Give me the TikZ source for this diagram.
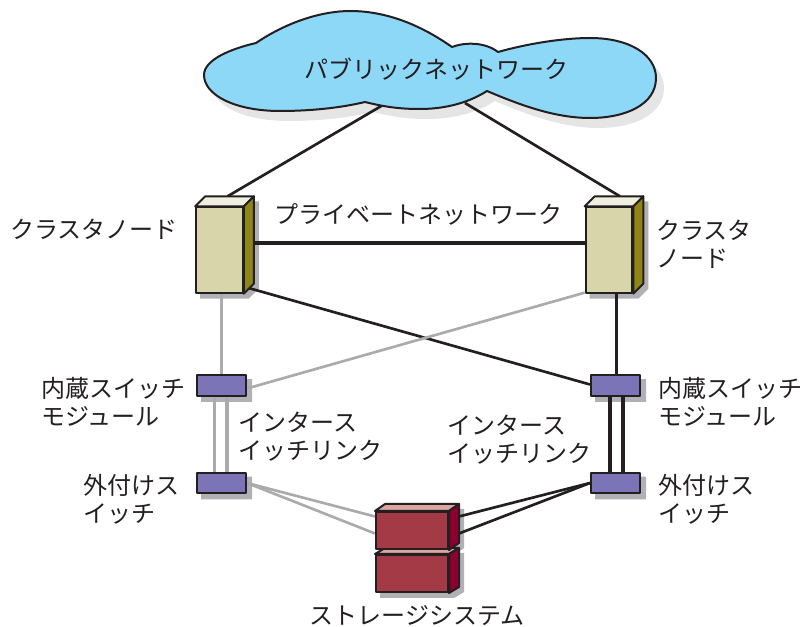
\documentclass[tikz,border=0pt]{standalone}
\usepackage{fontspec}
\setmainfont{Noto Sans CJK JP}
\usetikzlibrary{calc,backgrounds}
\definecolor{cloudblue}{HTML}{8DD7F7}
\definecolor{towerfront}{HTML}{D9D5AB}
\definecolor{towertop}{HTML}{F0EFDF}
\definecolor{towerside}{HTML}{8E8418}
\definecolor{switchblue}{HTML}{7B74B6}
\definecolor{diskfront}{HTML}{A33A45}
\definecolor{disktop}{HTML}{DBA5A0}
\definecolor{diskside}{HTML}{8B002E}
\definecolor{edgeink}{HTML}{231F20}
\definecolor{boxshadow}{HTML}{B1B1B5}
\definecolor{wiregray}{HTML}{ABABAB}
\tikzset{
boxedge/.style={draw=edgeink,line width=1.5pt,line join=round},
tower/.style={boxedge,fill=towerfront,inner sep=0pt,minimum width=35pt,minimum height=64pt},
switchbox/.style={boxedge,fill=switchblue,inner sep=0pt,minimum width=36.75pt,minimum height=15.5pt},
disk/.style={boxedge,fill=diskfront,inner sep=0pt,minimum width=54pt,minimum height=27.75pt},
blackwire/.style={draw=edgeink,line width=2pt},
graywire/.style={draw=wiregray,line width=2pt},
straightblack/.style={draw=edgeink,line width=2.3pt},
straightgray/.style={draw=wiregray,line width=2.3pt},
label/.style={font=\fontsize{18pt}{21pt}\selectfont,text=edgeink,inner sep=0pt,align=left}
}
% faces and shadow of the 3d boxes
\newcommand{\sidefaces}[5]{
\draw[boxedge,fill=#4] (#1.north west) -- ++(#2,-#3) -- ($(#1.north east)+(#2,-#3)$) -- (#1.north east) -- cycle;
\draw[boxedge,fill=#5] (#1.north east) -- ++(#2,-#3) -- ($(#1.south east)+(#2,-#3)$) -- (#1.south east) -- cycle;
}
\newcommand{\boxshadow}[3]{
\fill[boxshadow] ($(#1.north west)+(5,5)$) -- ++(#2,-#3) -- ($(#1.north east)+(5+#2,5-#3)$) -- ($(#1.south east)+(5+#2,5-#3)$) -- ($(#1.south east)+(5,5)$) -- ($(#1.south west)+(5,5)$) -- cycle;
}
\begin{document}
\begin{tikzpicture}[x=.75pt,y=-.75pt]
\useasboundingbox (0,0) rectangle (801,627);
% cloud
\def\cloudpath{(256,43) .. controls (290,20) and (325,11) .. (350,11) .. controls (390,11) and (425,28) .. (452,47)
.. controls (465,42) and (485,42) .. (498,52)
.. controls (530,43) and (565,38) .. (590,38) .. controls (630,38) and (656,55) .. (656,78)
.. controls (656,105) and (625,118) .. (590,118) .. controls (555,118) and (520,105) .. (487,91)
.. controls (465,105) and (440,109) .. (420,109) .. controls (400,109) and (385,107) .. (365,102)
.. controls (340,108) and (310,111) .. (280,111) .. controls (235,111) and (204,95) .. (204,75)
.. controls (204,60) and (230,49) .. (256,43) -- cycle}
\draw[boxedge,fill=cloudblue] \cloudpath;
\node[label] (cloudtext) at (436,69) {パブリックネットワーク};
\coordinate (cloudL) at (383,105);
\coordinate (cloudR) at (465,103);
% boxes
\node[tower] (clusterL) at (219.5,250) {};
\node[tower] (clusterR) at (609,250) {};
\node[switchbox] (switchL) at (221.5,385.5) {};
\node[switchbox] (switchR) at (615.5,385.5) {};
\node[switchbox] (extL) at (221.5,483) {};
\node[switchbox] (extR) at (615.5,483) {};
\node[disk] (diskB) at (412,573.5) {};
\sidefaces{diskB}{10}{6}{disktop}{diskside}
\node[disk] (diskA) at (412,530.5) {};
\sidefaces{diskA}{10}{7}{disktop}{diskside}
\sidefaces{clusterL}{10}{10}{towertop}{towerside}
\sidefaces{clusterR}{10}{10}{towertop}{towerside}
% shadows and wires go behind
\begin{scope}[on background layer]
\fill[black!10,shift={(8,10)}] \cloudpath;
\boxshadow{clusterL}{10}{10}
\boxshadow{clusterR}{10}{10}
\boxshadow{diskA}{10}{7}
\boxshadow{diskB}{10}{6}
\foreach \n in {switchL,switchR,extL,extR}
{\boxshadow{\n}{0}{0}}
\draw[blackwire] (cloudL) -- ($(clusterL.north)+(8,-10)$);
\draw[blackwire] (cloudR) -- ($(clusterR.north)+(11,-10)$);
\draw[straightblack] ($(clusterL.east)+(0,-7)$) -- ($(clusterR.west)+(0,-7)$);
\draw[blackwire] ($(clusterL.south east)+(0,-7)$) -- ($(switchR.west)+(0,-1)$);
\draw[graywire] ($(clusterR.south west)+(0,-1)$) -- ($(switchL.east)+(0,3)$);
\draw[straightgray] (switchL.north) -- (switchL.north |- clusterL.south);
\draw[straightblack] ($(switchR.north)+(1,0)$) -- ($(switchR.north |- clusterR.south)+(1,0)$);
\draw[straightgray] ($(switchL.south)+(-7,0)$) -- ($(extL.north)+(-7,0)$);
\draw[straightgray] ($(switchL.south)+(5.5,0)$) -- ($(extL.north)+(5.5,0)$);
\draw[straightblack] ($(switchR.south)+(-5.5,0)$) -- ($(extR.north)+(-5.5,0)$);
\draw[straightblack] ($(switchR.south)+(7.5,0)$) -- ($(extR.north)+(7.5,0)$);
\draw[graywire] (extL.east) -- ($(diskA.west)+(0,-14)$);
\draw[graywire] (extL.east) -- ($(diskA.west)+(0,3)$);
\draw[blackwire] (extR.west) -- ($(diskA.east)+(10,-14)$);
\draw[blackwire] (extR.west) -- ($(diskA.east)+(10,3)$);
\end{scope}
% labels
\node[label,anchor=west] (clusterLtext) at (10,229) {クラスタノード};
\node[label,anchor=west] (clusterRtext) at (656,244) {クラスタ\\ノード};
\node[label,anchor=west] (privatetext) at (274,214) {プライベートネットワーク};
\node[label,anchor=west] (switchLtext) at (41,402) {内蔵スイッチ\\モジュール};
\node[label,anchor=west] (switchRtext) at (658,402) {内蔵スイッチ\\モジュール};
\node[label,anchor=west] (extLtext) at (83,499) {外付けス\\イッチ};
\node[label,anchor=west] (extRtext) at (658,499) {外付けス\\イッチ};
\node[label,anchor=west] (linkLtext) at (238,437) {インタース\\イッチリンク};
\node[label,anchor=west] (linkRtext) at (447,440) {インタース\\イッチリンク};
\node[label] (disktext) at (417,616) {ストレージシステム};
\end{tikzpicture}
\end{document}
